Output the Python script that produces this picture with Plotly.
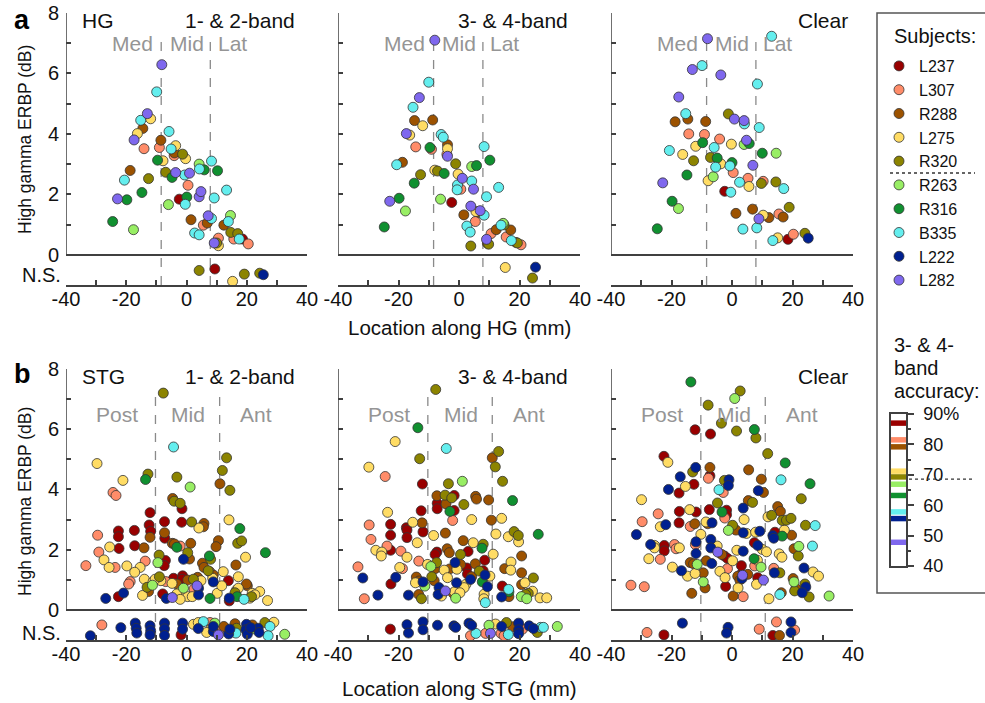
import plotly.graph_objects as go

# ---------------- data ----------------
SUBJECTS = ["L237", "L307", "R288", "L275", "R320", "R263", "R316", "B335", "L222", "L282"]
CODES = ["A", "B", "C", "D", "E", "F", "G", "H", "I", "J"]
COLORS = ["#990000", "#ff8c69", "#9c5200", "#ffdc64", "#8c8400",
          "#98ee64", "#109030", "#64eeee", "#002090", "#7f68ee"]
ACCURACY_34 = [87.0, 81.5, 79.2, 71.2, 69.3, 66.9, 63.2, 57.8, 55.6, 47.8]
ACC_THRESHOLD = 68.6
ACC_TICKS = [40, 50, 60, 70, 80, 90]
ACC_TICKTEXT = ["40", "50", "60", "70", "80", "90%"]

CONDITIONS = ["1- & 2-band", "3- & 4-band", "Clear"]
X_TICKS = [-40, -30, -20, -10, 0, 10, 20, 30, 40]
X_TICKTEXT = ["-40", "", "-20", "", "0", "", "20", "", "40"]
Y_TICKS = [0, 2, 4, 6, 8]
Y_MINOR = [1, 3, 5, 7]

HG_BOUNDS = [-8.4, 7.9]
STG_BOUNDS = [-10.3, 11.0]
HG_REGIONS = ["Med", "Mid", "Lat"]
HG_REGION_X = [-18.0, 0.0, 15.2]
STG_REGIONS = ["Post", "Mid", "Ant"]
STG_REGION_X = [-23.0, 0.5, 23.0]

# HG, 1- & 2-band
hg12_x = [-8.2, -9.9, -13.0, -15.2, -11.9, -14.5, -16.3, -17.4, -14.1, -5.8, -8.5, -9.0, -3.6, -5.1, -4.0, -4.1,
          -1.3, -0.3, -9.6, -7.8, -18.7, -20.6, -12.6, -6.9, -3.6, -4.8, -0.6, 1.0, 4.2, 4.3, 5.9, 8.3, 10.3,
          -14.8, -22.9, -19.8, -6.0, -2.4, 0.1, -0.4, 0.5, 4.2, 4.8, 9.2, 13.3, -24.5, -17.6, 1.5, 7.2, 8.3,
          6.9, 5.6, 2.7, 4.2, 12.4, 13.9, 14.6, 14.7, 17.0, 15.7, 17.5, 18.6, 20.5, 9.2, 10.0, 10.6, 10.6,
          4.2, 9.4, 19.2, 15.3, 24.3, 25.5]
hg12_y = [6.29, 5.39, 4.67, 4.45, 4.50, 4.18, 4.01, 3.80, 3.51, 4.08, 3.79, 3.55, 3.61, 3.50, 3.37, 3.28,
          3.33, 3.18, 3.13, 3.11, 2.79, 2.47, 2.52, 2.73, 2.72, 2.56, 2.64, 2.70, 3.00, 2.84, 2.81, 3.10, 2.78,
          2.06, 1.85, 1.82, 1.66, 1.84, 1.91, 1.67, 2.30, 1.92, 2.09, 1.88, 2.14, 1.10, 0.83, 1.16, 1.29, 1.20,
          1.05, 0.98, 0.72, 0.66, 0.98, 1.10, 1.30, 0.74, 0.70, 0.52, 0.52, 0.52, 0.36, 0.39, 0.39, 0.30, 0.55,
          -0.52, -0.47, -0.64, -0.88, -0.61, -0.66]
hg12_s = ("J H J H D C D J B H C B D H C B E D G D C H E E J G H J F H G H G "
          "G J G F A G H B J J H H G F C J H C B H H C H F E E B H A B J E D B "
          "E A E D E I").split()

# HG, 3- & 4-band
hg34_x = [-8.0, -10.0, -13.1, -15.2, -14.7, -8.7, -12.0, -17.4, -16.3, -5.9, -5.2, -14.3, -9.6, -9.1, -3.8,
          -3.8, -4.0, -3.8, 8.3, 10.2, -18.7, -20.6, -1.1, 4.2, 5.8, -8.0, -7.1, -12.7, -4.9, -0.3, 1.1, -14.8,
          4.2, -0.5, -0.6, 0.6, 4.8, 13.1, -22.9, -19.8, -6.1, -2.4, 9.1, -17.7, -24.7, 3.9, 7.0, 5.6, 6.7, 8.3,
          1.6, 5.4, 2.6, 3.7, 3.9, 14.6, 14.9, 13.9, 12.3, 10.6, 17.1, 15.6, 17.3, 18.8, 19.3, 20.5, 9.1, 9.8,
          9.4, 15.3, 25.3, 24.3]
hg34_y = [7.10, 5.71, 5.20, 4.88, 4.44, 4.46, 4.27, 4.01, 3.96, 3.98, 3.89, 3.57, 3.55, 3.49, 3.64,
          3.51, 3.32, 3.26, 3.58, 3.13, 3.06, 2.98, 3.01, 2.92, 2.95, 2.80, 2.77, 2.65, 2.69, 2.67, 2.53, 2.37,
          2.44, 2.31, 2.15, 2.17, 2.17, 2.23, 1.77, 1.87, 1.84, 1.73, 1.92, 1.45, 0.92, 1.61, 1.46, 1.43, 1.40,
          1.31, 1.32, 1.10, 0.95, 0.75, 0.29, 1.04, 0.99, 0.98, 0.83, 0.70, 0.82, 0.59, 0.47, 0.41, 0.39, 0.33,
          0.51, 0.35, 0.38, -0.42, -0.41, -0.77]
hg34_s = ("J H J H C C D J D H H B G B C D B J H G C H E F G D E E G D J G "
          "H H H B J H J G F A H F G J J D C H C B H H E F E H C B C B H C E B J E "
          "C D I E").split()

# HG, clear
hgcl_x = [-8.1, 13.1, -13.1, -9.9, -3.7, 8.4, -17.6, -15.3, -18.8, -14.6, -8.7, -1.2, 0.8, 4.0, 4.1, 9.0,
          -14.3, -9.1, -4.1, 4.8, -12.0, -9.7, -5.9, -0.2, 4.0, 5.7, -20.7, -16.3, 10.0, 14.6, -7.1, -4.9,
          -12.7, -3.7, 0.0, -5.4, -0.7, 6.9, -14.9, 0.4, -6.2, -7.9, -22.9, 2.5, 5.3, 10.3, 9.7, 14.5, 5.6,
          17.1, -2.4, -0.4, -19.8, -17.7, 1.3, 6.8, 10.3, 12.2, 8.9, 15.5, 16.9, 18.9, -24.7, 3.6, 8.2, 13.5,
          15.1, 18.5, 20.3, 24.1, 25.2]
hgcl_y = [7.15, 7.23, 6.13, 6.26, 5.95, 5.65, 5.22, 4.67, 4.40, 4.49, 4.41, 4.66, 4.49, 4.44, 4.33, 4.21,
          4.00, 3.98, 3.83, 3.79, 3.59, 3.71, 3.55, 3.66, 3.65, 3.68, 3.45, 3.32, 3.36, 3.36, 3.22, 3.20,
          3.11, 3.01, 3.05, 2.90, 2.94, 2.96, 2.64, 2.72, 2.58, 2.45, 2.38, 2.40, 2.53, 2.43, 2.36, 2.41, 2.26,
          2.19, 2.10, 2.07, 1.77, 1.53, 1.37, 1.51, 1.31, 1.23, 1.19, 1.35, 1.25, 1.57, 0.86, 0.85, 0.89, 0.47,
          0.56, 0.51, 0.68, 0.71, 0.55]
hgcl_s = ("J H J H J H J H C C C E J J H H B B B J D G H D F G H D G F E G "
          "E D G H H J G B F D J H B B E E D H A H G F C C D C J B C E G H H H "
          "D A B E I").split()

# STG, 1- & 2-band
stg12_x = [-7.7, -4.3, 13.3, 11.9, -29.7, -12.8, -13.6, -21.1, -3.2, 1.2, 11.1, 14.4, -24.4, -23.4, -4.6,
           -4.1, -2.1, -1.5, -12.1, 14.1, -7.3, -1.6, 1.7, -12.4, 5.8, 5.6, 4.1, 17.7, -29.5, -22.6, -22.6,
           -17.3, -11.9, -12.1, -7.3, -7.2, -4.7, -4.0, -2.1, -3.2, 1.4, 17.0, 18.3, 10.6, 9.8, 26.2, -29.1,
           -27.4, -25.5, -22.4, -17.2, -14.1, -33.4, -25.7, -23.7, -19.8, -15.4, -13.7, -17.2, -9.5, -7.0, -7.4,
           -9.1, -1.0, 1.0, 0.4, 5.3, 7.6, 8.0, 19.6, 16.4, 12.2, -18.7, -19.2, -14.0, -9.0, -11.1, -8.5,
           -10.4, -6.9, -4.3, -4.8, -3.2, -1.3, -1.4, 0.4, 2.3, 3.7, 4.8, -1.6, -1.9, -1.0, -3.2, 0.4, 2.5,
           1.9, 3.5, 4.0, 4.0, -6.7, -4.7, -2.1, -26.8, -22.6, -20.9, -14.6, -12.6, -13.1, -11.3, -7.9, 5.8,
           7.7, 7.2, 8.9, 8.9, 8.7, 7.8, 10.2, 11.7, 13.9, 14.2, 14.2, 17.2, 16.6, 16.1, 17.2, 16.8, 19.1,
           20.2, 19.9, 21.8, 21.6, 21.0, 24.3, 22.7, 26.9,
           -28.1, -21.8, -17.0, -16.7, -16.5, -12.1, -11.9, -12.1, -7.3, -7.3, -7.3, -1.3, -1.3, -1.8, -31.9,
           2.3, 3.9, 3.9, 4.5, 5.6, 7.8, 9.4, 8.1, 8.9, 8.9, 10.6, 10.6, 6.7, 12.4, 14.0, 14.4, 16.4, 16.1,
           16.6, 19.9, 19.7, 20.2, 22.1, 23.8, 24.1, 27.7, 26.0, 29.0, 27.1, 32.6, 21.3, 21.9]
stg12_y = [7.20, 5.41, 5.05, 4.63, 4.86, 4.51, 4.33, 4.30, 4.41, 4.08, 4.19, 3.97, 3.90, 3.80, 3.70,
           3.61, 3.54, 3.36, 3.23, 2.99, 2.93, 2.91, 2.92, 2.82, 2.87, 2.76, 2.72, 2.70, 2.48, 2.62, 2.43,
           2.64, 2.61, 2.41, 2.56, 2.38, 2.21, 2.19, 2.12, 2.08, 2.21, 2.21, 2.29, 2.30, 2.10, 1.90, 1.92,
           1.66, 2.09, 2.04, 2.13, 2.06, 1.47, 1.41, 1.41, 1.46, 1.41, 1.62, 1.25, 1.57, 1.64, 1.47,
           1.82, 1.68, 1.69, 1.90, 1.55, 1.79, 1.68, 1.75, 1.49, 1.27, 0.94, 0.86, 1.02, 1.10, 0.94, 0.97,
           1.02, 0.94, 1.05, 0.88, 0.86, 1.13, 1.02, 0.99, 1.02, 1.08, 0.97, 0.55, 0.61, 0.72, 0.53, 0.44, 0.69,
           0.44, 0.80, 0.72, 0.50, 0.38, 0.41, 0.35, 0.38, 0.44, 0.56, 0.48, 0.61, 0.75, 0.82, 0.53, 1.41,
           1.27, 1.30, 1.16, 0.93, 1.05, 0.38, 0.55, 0.80, 0.97, 0.39, 0.30, 1.10, 0.66, 0.57, 0.72, 0.44, 0.35,
           0.80, 0.86, 0.55, 0.44, 0.39, 0.61, 0.50, 0.31,
           -0.50, -0.59, -0.44, -0.61, -0.77, -0.53, -0.69, -0.83, -0.44, -0.63, -0.85, -0.44, -0.64, -0.83, -0.86,
           -0.48, -0.42, -0.62, -0.44, -0.39, -0.42, -0.44, -0.64, -0.72, -0.55, -0.72, -0.83, -0.75, -0.55, -0.80,
           -0.64, -0.77, -0.46, -0.61, -0.48, -0.66, -0.81, -0.63, -0.61, -0.75, -0.55, -0.42, -0.41, -0.86, -0.81,
           -0.59, -0.50]
stg12_s = ("E H E E D E G D E F C E B B C E E A A D A A E A C C D G B A A A A C C A C C B G C E E C C G B "
           "D D A A C B D B D D B D F A A E I C E C G E D C D B B D E D D D B A D C A A C E C D B D F D D B "
           "D J I I I J D I A I D C E F A C B E C I D G D D A I A D D E D G H C C D E D D D D "
           "B I I I I I I I I I I I I A I D D I B H B F D I I B J D C I I H C E I I I F I I H E D H F I C").split()

# STG, 3- & 4-band
stg34_x = [-7.7, -13.6, -21.1, -4.2, 13.1, 11.0, 12.0, -13.0, -29.8, -24.4, -12.1, -3.5, 1.1, 14.4, -4.6,
           -7.3, -2.4, -1.6, 5.5, 5.8, 9.8, 17.7, -7.2, -4.3, 1.6, -7.2, -3.0, -1.6, -12.5, -23.6, -2.1, 4.2,
           10.7, 14.1, -29.7, -22.6, -15.3, -12.2, -17.4, -17.2, -22.6, -17.2, -11.9, -8.4, -4.5, 12.2, 18.2,
           16.3, 19.6, 26.2, -29.1, -13.8, 1.4, 4.7, 8.0, 19.7, -23.8, -22.6, -27.5, -25.5, -25.7, -19.2,
           -17.2, -7.3, -7.9, -3.9, -3.2, 0.5, 3.0, 7.6, 11.3, 20.7, -33.4, -19.6, -18.7, -13.3, -10.4, -9.3,
           -7.4, -7.9, -4.9, -3.1, -1.3, 0.5, -0.7, 2.6, 2.8, 5.4, 8.5, 6.7, 8.0, 10.2, 15.1, 17.2, 17.1, 20.7,
           24.6, -31.8, -14.1, -14.4, -22.5, -20.9, -13.2, -11.9, -11.3, -9.0, -8.2, -3.8, -6.6, -0.8, -1.5,
           4.2, 3.8, 2.3, 1.7, 8.6, 7.7, 9.4, 14.3, 16.4, 16.5, 20.7, 21.8, 24.3, 22.9, -26.8, -31.3, -16.7,
           -13.3, -12.4, -6.9, -4.5, -5.8, -1.9, -1.1, -1.1, 0.3, 8.3, 8.2, 8.7, 14.1, 16.5, 20.6, 22.4, 22.0,
           26.8, 29.0,
           -22.7, -17.2, -16.7, -11.9, -11.9, -7.1, -1.7, -1.1, 3.3, 4.2, 3.8, 5.6, 9.9, 8.8, 10.4, 12.1,
           14.1, 15.7, 13.9, 14.9, 16.3, 17.7, 19.7, 19.7, 19.7, 21.0, 23.2, 24.6, 25.9, 27.0, 27.9, 32.5]
stg34_y = [7.32, 6.05, 5.59, 5.36, 5.26, 5.05, 4.75, 5.02, 4.74, 4.43, 4.18, 4.19, 4.27, 4.27, 3.81,
           3.79, 3.72, 3.80, 3.77, 3.68, 3.65, 3.63, 3.54, 3.52, 3.50, 3.36, 3.27, 3.30, 3.29, 3.24, 2.97, 3.00,
           2.98, 3.04, 2.82, 2.84, 2.91, 2.89, 2.73, 2.65, 2.48, 2.40, 2.59, 2.47, 2.55, 2.52, 2.60,
           2.43, 2.47, 2.51, 2.34, 2.23, 2.30, 2.23, 2.18, 2.26, 2.12, 1.98, 1.98, 1.92, 1.79, 1.95,
           1.75, 1.92, 1.84, 2.03, 1.90, 1.84, 1.94, 2.05, 1.85, 1.79, 1.43, 1.41, 1.37, 1.62, 1.51, 1.44,
           1.57, 1.37, 1.32, 1.36, 1.57, 1.51, 1.35, 1.39, 1.19, 1.53, 1.65, 1.29, 1.30, 1.12, 1.37, 1.59, 1.32, 1.23,
           1.06, 1.06, 1.09, 0.90, 0.86, 1.08, 0.96, 0.93, 0.79, 1.10, 0.97, 1.07, 0.74, 0.90, 0.60,
           1.10, 1.01, 0.85, 0.74, 1.16, 0.93, 0.77, 0.79, 0.68, 0.60, 0.84, 0.90, 0.62, 0.55, 0.49, 0.37, 0.49,
           0.51, 0.37, 0.51, 0.63, 0.46, 0.55, 0.52, 0.39, 0.57, 0.52, 0.37, 0.24, 0.43, 0.44, 0.44, 0.37, 0.51,
           0.40, 0.40,
           -0.64, -0.49, -0.77, -0.40, -0.66, -0.51, -0.53, -0.58, -0.44, -0.51, -0.86, -0.78, -0.51, -0.78, -0.78, -0.47,
           -0.55, -0.42, -0.78, -0.86, -0.82, -0.56, -0.44, -0.66, -0.79, -0.64, -0.53, -0.62, -0.75, -0.58, -0.58, -0.55]
stg34_s = ("E G D H E C E E D B A E F E E C E A C C C G A C E A G A A D B D C D B A D C A A A A A D C D E "
           "D E G B D C D E D B A D D D B D A A C C E A G D C B D B B D F E C D C I C D A A C A E A D C D D C "
           "E I C D A I C I F E C D I I D C I D D I G I A H G C D D E I B I C E I J D C A F D D D H I C F F E "
           "D D "
           "A I I I I I I I I I B H F B J D I E B B H C I I I B I I E H H F").split()

# STG, clear
stgcl_x = [-13.6, 2.7, 0.9, -7.9, -3.5, -12.2, 1.5, 7.4, -7.1, 7.9, 11.8, -22.5, -21.2, 17.6, -12.0, -13.0,
           -7.3, -7.3, -7.8, -17.1, -2.5, -1.0, -1.2, 5.5, 9.7, 16.2, 25.8, -21.0, -15.4, -12.6, -17.5, -4.3,
           -2.9, 8.7, 10.4, -29.9, -4.8, 5.4, 6.8, 22.9, 3.7, 15.1, -17.4, -14.0, -11.9, -7.5, -3.3, -1.8,
           -1.8, -2.4, 16.0, -24.4, 13.1, 11.9, 16.6, 18.0, 19.5, -29.7, -17.5, -21.9, -23.7, -13.8, -12.3,
           -8.6, -8.0, -6.6, 0.2, 1.3, -1.2, 4.0, 3.7, 4.8, 7.8, 9.2, 14.2, 13.5, 13.8, 16.6, 17.3, 19.7, 24.3,
           27.5, -31.6, -26.9, -25.6, -25.6, -22.4, -22.4, -19.0, -18.5, -17.4, -12.1, -11.9, -11.9, -10.3,
           -7.0, -7.0, -4.9, -4.7, -3.4, -2.5, -1.5, 0.2, 1.6, 3.7, 7.4, 8.5, 10.0, 11.4, 20.5, 22.1, 26.6, 15.6,
           16.5, 21.9, -27.5, -23.7, -13.8, -12.7, -11.5, -8.5, -6.7, 7.3, 8.4, 7.5, 9.6, -19.7, -16.7, -14.7,
           -12.2, -9.5, -4.0, -1.5, -2.3, 1.9, 2.6, 3.3, 3.5, 3.0, 3.1, 5.2, 8.5, 10.4, 14.0, 13.8, 15.8, 20.2,
           20.5, 20.7, 21.1, 23.8, 26.8, 28.6, 24.1, 24.4, 23.2, 25.5, 32.1, -33.4, -29.0, -13.3, -9.5, -8.9,
           -2.1, 2.0, 0.4, 3.7, 8.1, 12.2, 15.8, 16.3,
           -16.4, -28.1, -22.5, -1.3, -1.8, 9.0, 14.7, 13.5, 15.7, 19.5, 19.5, 20.7]
stgcl_y = [7.57, 7.27, 7.02, 6.80, 6.20, 5.98, 5.94, 5.99, 5.84, 5.71, 5.19, 5.10, 4.90, 4.88, 4.73, 4.58,
           4.73, 4.45, 4.37, 4.42, 4.30, 4.32, 4.13, 4.65, 4.34, 4.32, 4.19, 4.00, 4.10, 4.17, 3.88, 3.99,
           3.90, 3.96, 3.90, 3.66, 3.55, 3.63, 3.57, 3.69, 3.38, 3.43, 3.27, 3.33, 3.25, 3.33, 3.25, 3.31,
           3.16, 3.05, 3.27, 3.19, 3.14, 3.09, 2.97, 2.98, 3.04, 2.93, 2.89, 2.83, 2.76, 2.77, 2.86,
           2.92, 2.86, 2.89, 2.81, 2.65, 2.64, 3.00, 2.56, 2.54, 2.58, 2.61, 2.58, 2.47, 2.38, 2.45, 2.65, 2.48, 2.81,
           2.80, 2.50, 2.17, 2.14, 2.06, 2.14, 1.96, 2.17, 2.03, 2.06, 2.17, 2.26, 1.87, 2.51,
           2.34, 2.06, 2.12, 1.92, 1.84, 1.79, 1.71, 1.63, 1.98, 1.95, 2.23, 2.14, 2.01, 1.93, 2.03, 2.11, 2.12, 1.86,
           1.75, 1.79, 1.70, 1.68, 1.57, 1.53, 1.51, 1.63, 1.54, 1.70, 1.65, 1.46, 1.42, 1.42, 1.30, 1.12,
           1.21, 1.23, 1.28, 1.37, 1.07, 1.12, 0.99, 1.04, 1.15, 1.18, 1.47, 1.18, 1.07, 0.99, 1.23, 1.38, 1.23, 1.04,
           0.93, 0.63, 0.71, 1.39, 1.26, 1.12, 0.86, 0.76, 0.57, 0.43, 0.46, 0.82, 0.77, 0.55, 0.93, 0.73,
           0.78, 0.73, 0.46, 0.44, 0.85, 0.37, 0.51, 0.57,
           -0.44, -0.75, -0.83, -0.58, -0.77, -0.64, -0.40, -0.85, -0.85, -0.40, -0.75, -0.67]
stgcl_s = ("G E F E E A E G A E E A D G I E C A B I E I I C C H G I D A A H B I C D E C E E I C A D A A G A "
           "A B C B E D E E E B A I D B C D C I E C F D I D D I A I I G D C E H I I D D A A B B D B I I D I I "
           "D J C A A D D I A I D D C F H D D E D B C C F C I G D B F D I D D C D B D C C I J A A C A J I B E C "
           "F E C I D D E I I E F B B C F C A D C B D D H C "
           "I B A I I B B A C I I B").split()

# ---------------- figure ----------------
W, H = 985, 703
AX = "#404040"
FONT = "Liberation Sans, Arial, Helvetica, sans-serif"


def px_x(p):
    return p / W


def px_y(p):
    return 1 - p / H


def paper_text(text, x, y, size, xanchor="center", angle=0, color="#111"):
    return dict(text=text, x=px_x(x), y=px_y(y), xref="paper", yref="paper", showarrow=False,
                xanchor=xanchor, yanchor="middle", textangle=angle,
                font=dict(size=size, color=color, family=FONT))


COL_PX = [(66, 307), (338, 580), (611, 853)]
ROW_PX = [(13, 285), (369, 640)]

panels = [(hg12_x, hg12_y, hg12_s), (hg34_x, hg34_y, hg34_s), (hgcl_x, hgcl_y, hgcl_s),
          (stg12_x, stg12_y, stg12_s), (stg34_x, stg34_y, stg34_s), (stgcl_x, stgcl_y, stgcl_s)]

fig = go.Figure()
layout = dict(
    template="none",
    width=W, height=H, margin=dict(l=0, r=0, t=0, b=0, pad=0), autosize=False,
    paper_bgcolor="white", plot_bgcolor="rgba(0,0,0,0)",
    font=dict(family=FONT, color="#111"),
    showlegend=True,
    legend=dict(x=px_x(879), xanchor="left", y=px_y(49), yanchor="top",
                font=dict(size=16, color="#111", family=FONT), bgcolor="rgba(0,0,0,0)",
                borderwidth=0, tracegroupgap=0),
)
shapes = []
annotations = []

for p, (xs, ys, ss) in enumerate(panels):
    r, c = divmod(p, 3)
    k = p + 1
    sx = "" if k == 1 else str(k)
    xref, yref = "x" + sx, "y" + sx
    for code, name, col in zip(CODES, SUBJECTS, COLORS):
        idx = [i for i, s in enumerate(ss) if s == code]
        fig.add_trace(go.Scatter(
            x=[xs[i] for i in idx], y=[ys[i] for i in idx], mode="markers",
            marker=dict(size=10, color=col, line=dict(color="#333333", width=0.8)),
            name=name, legendgroup=name, showlegend=(p == 0),
            xaxis=xref, yaxis=yref, cliponaxis=False))
    x0, x1 = COL_PX[c]
    y0, y1 = ROW_PX[r]
    layout["xaxis" + sx] = dict(
        domain=[px_x(x0), px_x(x1)], anchor=yref, range=[-40, 40], automargin=False,
        showline=True, linecolor=AX, linewidth=1.5, mirror=False,
        ticks="inside", ticklen=5, tickwidth=1.5, tickcolor=AX,
        tickmode="array", tickvals=X_TICKS, ticktext=X_TICKTEXT,
        ticklabelstandoff=-5,
        tickfont=dict(size=20, color="#111", family=FONT),
        showgrid=False, zeroline=False, fixedrange=True)
    layout["yaxis" + sx] = dict(
        domain=[px_y(y1), px_y(y0)], anchor=xref, range=[-1, 8], automargin=False,
        showline=False, zeroline=True, zerolinecolor=AX, zerolinewidth=1.5,
        ticks="inside", ticklen=5, tickwidth=1.5, tickcolor=AX,
        tickmode="array", tickvals=Y_TICKS, showticklabels=(c == 0),
        ticklabelstandoff=6,
        minor=dict(tickmode="array", tickvals=Y_MINOR, ticks="inside", ticklen=5,
                   tickwidth=1.5, tickcolor=AX, showgrid=False),
        tickfont=dict(size=20, color="#111", family=FONT),
        showgrid=False, fixedrange=True)
    # y axis line from 0 to 8
    shapes.append(dict(type="line", xref=xref, yref=yref, x0=-40, x1=-40, y0=0, y1=8,
                       line=dict(color=AX, width=1.5), layer="below"))
    bounds = HG_BOUNDS if r == 0 else STG_BOUNDS
    for b in bounds:
        shapes.append(dict(type="line", xref=xref, yref=yref, x0=b, x1=b, y0=-1, y1=7.3,
                           line=dict(color="#8a8a8a", width=1.3, dash="dash"), layer="below"))
    regions = HG_REGIONS if r == 0 else STG_REGIONS
    region_x = HG_REGION_X if r == 0 else STG_REGION_X
    region_y = 7.0 if r == 0 else 6.48
    for txt, rx in zip(regions, region_x):
        annotations.append(dict(text=txt, x=rx, y=region_y, xref=xref, yref=yref, showarrow=False,
                                xanchor="center", yanchor="middle",
                                font=dict(size=21, color="#959595", family=FONT)))
    cond_x = [36.8, 36.7, 39.0][c]
    annotations.append(dict(text=CONDITIONS[c], x=cond_x, y=7.74, xref=xref, yref=yref, showarrow=False,
                            xanchor="right", yanchor="middle", font=dict(size=21, color="#111", family=FONT)))
    if c == 0:
        annotations.append(dict(text="HG" if r == 0 else "STG", x=-35.5, y=7.74, xref=xref, yref=yref,
                                showarrow=False, xanchor="left", yanchor="middle",
                                font=dict(size=21, color="#111", family=FONT)))
        annotations.append(dict(text="N.S.", x=px_x(63), y=-0.66 if r == 0 else -0.76, xref="paper",
                                yref=yref, showarrow=False, xanchor="right", yanchor="middle",
                                font=dict(size=20, color="#111", family=FONT)))

# accuracy colour scale (small axis)
fig.add_trace(go.Bar(x=[1] * len(ACCURACY_34), y=ACCURACY_34, base=0, orientation="h",
                     width=[1.8] * len(ACCURACY_34), marker=dict(color=COLORS, line=dict(width=0)),
                     xaxis="x7", yaxis="y7", showlegend=False, hoverinfo="y"))
layout["xaxis7"] = dict(domain=[px_x(891), px_x(906)], anchor="y7", range=[0, 1], automargin=False,
                        showline=True, mirror=True, linecolor=AX, linewidth=1.5,
                        ticks="", showticklabels=False, showgrid=False, zeroline=False, fixedrange=True)
layout["yaxis7"] = dict(domain=[px_y(566), px_y(414)], anchor="x7", range=[40, 90], side="right",
                        automargin=False,
                        showline=True, mirror=True, linecolor=AX, linewidth=1.5,
                        ticks="outside", ticklen=6, tickwidth=1.5, tickcolor=AX,
                        tickmode="array", tickvals=ACC_TICKS, ticktext=ACC_TICKTEXT,
                        ticklabelstandoff=6,
                        minor=dict(tickmode="array", tickvals=[45, 55, 65, 75, 85], ticks="outside",
                                   ticklen=3, tickwidth=1.5, tickcolor=AX, showgrid=False),
                        tickfont=dict(size=18, color="#111", family=FONT),
                        showgrid=False, zeroline=False, fixedrange=True)
shapes.append(dict(type="line", xref="paper", yref="y7", x0=px_x(909), x1=px_x(975),
                   y0=ACC_THRESHOLD, y1=ACC_THRESHOLD, line=dict(color="#333", width=1.3, dash="dot")))

# legend frame and separator
shapes.append(dict(type="rect", xref="paper", yref="paper", x0=px_x(877), x1=px_x(1000),
                   y0=px_y(593), y1=px_y(13), line=dict(color="#555", width=1.5)))
shapes.append(dict(type="line", xref="paper", yref="paper", x0=px_x(890), x1=px_x(975),
                   y0=px_y(173), y1=px_y(173), line=dict(color="#333", width=1.3, dash="dot")))

# text annotations
annotations += [
    paper_text("<b>a</b>", 22, 20, 27, color="#000"),
    paper_text("<b>b</b>", 22, 374, 27, color="#000"),
    paper_text("High gamma ERBP (dB)", 25, 140, 17.5, angle=-90),
    paper_text("High gamma ERBP (dB)", 25, 502, 17.5, angle=-90),
    paper_text("Location along HG (mm)", 459, 327, 20.5),
    paper_text("Location along STG (mm)", 459, 688, 20.5),
    paper_text("Subjects:", 892, 36, 20, xanchor="left"),
    paper_text("3- & 4-", 892, 345, 20, xanchor="left"),
    paper_text("band", 892, 368, 20, xanchor="left"),
    paper_text("accuracy:", 892, 391, 20, xanchor="left"),
]

layout["shapes"] = shapes
layout["annotations"] = annotations
fig.update_layout(**layout)

fig.write_html("out.html", config={"displayModeBar": False},
               post_script="document.body.style.margin='0px';")
